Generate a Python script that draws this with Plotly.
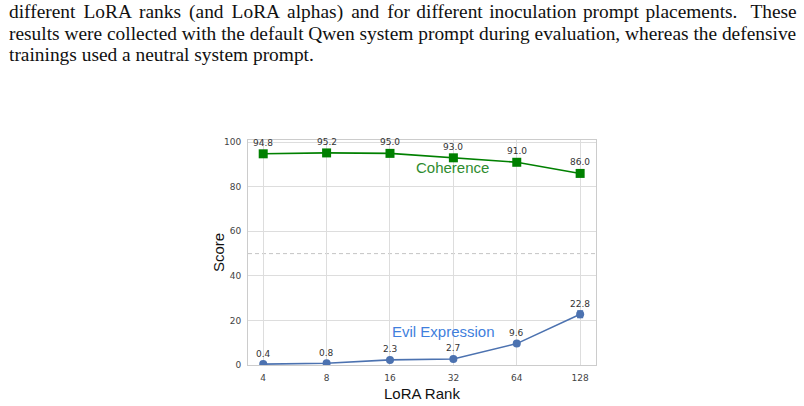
import plotly.graph_objects as go

ranks = ["4", "8", "16", "32", "64", "128"]
coherence = [94.8, 95.2, 95.0, 93.0, 91.0, 86.0]
evil = [0.4, 0.8, 2.3, 2.7, 9.6, 22.8]
evil_err = [0.2, 0.3, 0.4, 0.4, 0.9, 1.5]
caption_lines = [
    "different LoRA ranks (and LoRA alphas) and for different inoculation prompt placements.  These",
    "results were collected with the default Qwen system prompt during evaluation, whereas the defensive",
    "trainings used a neutral system prompt.",
]

W, H = 804, 406
L, R, T, B = 248, 596, 140, 365
xs = list(range(len(ranks)))

fig = go.Figure()
fig.add_trace(go.Scatter(
    x=xs, y=coherence, mode="lines+markers",
    line=dict(color="#008000", width=1.6),
    marker=dict(symbol="square", size=9, color="#008000"),
    showlegend=False, hoverinfo="skip"))
fig.add_trace(go.Scatter(
    x=xs, y=evil, mode="lines+markers",
    line=dict(color="#4c72b0", width=1.6),
    marker=dict(symbol="circle", size=8, color="#4c72b0"),
    error_y=dict(type="data", array=evil_err, color="#4c72b0", thickness=1.2, width=3),
    showlegend=False, hoverinfo="skip"))

# reference line at 50
fig.add_shape(type="line", xref="paper", x0=0, x1=1, yref="y", y0=50, y1=50,
              line=dict(color="#c4c4c4", width=1, dash="4px,3px"), layer="below")

ann = []
for x, v in zip(xs, coherence):
    ann.append(dict(x=x, y=v, text=f"{v:.1f}", showarrow=False, yshift=11,
                    font=dict(family="DejaVu Sans", size=9, color="#333333")))
for x, v in zip(xs, evil):
    ann.append(dict(x=x, y=v, text=f"{v:.1f}", showarrow=False, yshift=10.5,
                    font=dict(family="DejaVu Sans", size=9, color="#333333")))
ann.append(dict(x=2.98, y=88.6, text="Coherence", showarrow=False,
                font=dict(family="Liberation Sans", size=15, color="#2e8b2e")))
ann.append(dict(x=2.84, y=15.0, text="Evil Expression", showarrow=False,
                font=dict(family="Liberation Sans", size=15, color="#3f7fdd")))

def px(xp):
    return (xp - L) / (R - L)

def py(yp):
    return (B - yp) / (B - T)

HAIR = "\u200a"

def justify(line, extra_total):
    words = line.split(" ")
    gaps = len(words) - 1
    out = words[0]
    for k, w in enumerate(words[1:]):
        n = extra_total // gaps + (1 if k < extra_total % gaps else 0)
        out += " " + HAIR * n + w
    return out

for i, line in enumerate(caption_lines):
    txt = justify(line, 20) if i == 0 else line
    ann.append(dict(xref="paper", yref="paper", x=px(7), y=py(12 + 21.3 * i),
                    xanchor="left", yanchor="middle", text=txt, showarrow=False,
                    font=dict(family="Liberation Serif", size=19.4, color="#111111")))

ann.append(dict(xref="paper", yref="paper", x=px(218), y=py(253), text="Score",
                textangle=-90, showarrow=False, xanchor="center", yanchor="middle",
                font=dict(family="Liberation Sans", size=15, color="#111111")))
ann.append(dict(xref="paper", yref="paper", x=px(422), y=py(393), text="LoRA Rank",
                showarrow=False, xanchor="center", yanchor="middle",
                font=dict(family="Liberation Sans", size=15, color="#111111")))

fig.update_layout(
    width=W, height=H,
    margin=dict(l=L, r=W - R, t=T, b=H - B, pad=0),
    paper_bgcolor="white", plot_bgcolor="white",
    annotations=ann,
    xaxis=dict(range=[-0.24, 5.25], tickmode="array", tickvals=xs, ticktext=ranks,
               showgrid=True, gridcolor="#dddddd", gridwidth=1,
               showline=True, linecolor="#cccccc", mirror=True, zeroline=False,
               ticks="outside", ticklen=4, tickcolor="white",
               tickfont=dict(family="DejaVu Sans", size=9, color="#444444")),
    yaxis=dict(range=[0, 101], tickvals=[0, 20, 40, 60, 80, 100],
               showgrid=True, gridcolor="#dddddd", gridwidth=1,
               showline=True, linecolor="#cccccc", mirror=True, zeroline=False,
               ticks="outside", ticklen=4, tickcolor="white",
               tickfont=dict(family="DejaVu Sans", size=9, color="#444444")),
)

fig.write_html("out.html")
